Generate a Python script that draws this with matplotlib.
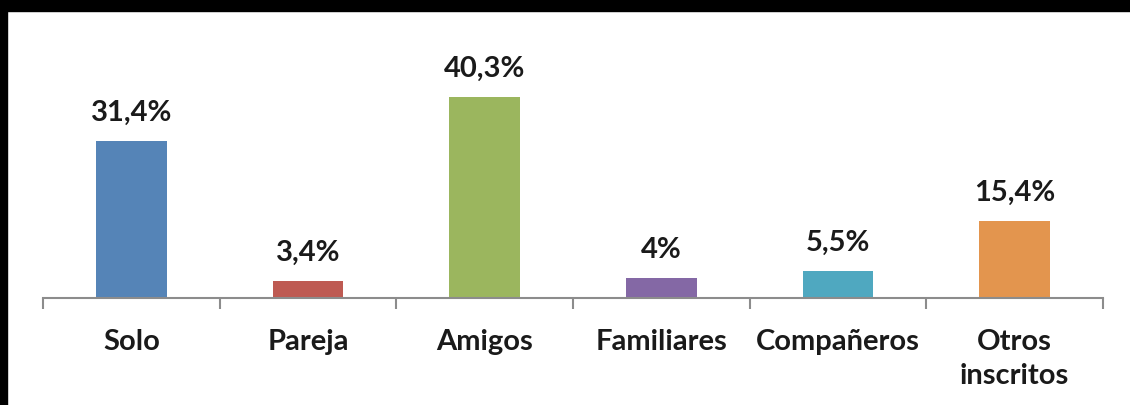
import numpy as np
import matplotlib.pyplot as plt
from matplotlib.patches import Rectangle

# datos del gráfico
categorias = ['Solo', 'Pareja', 'Amigos', 'Familiares', 'Compañeros', 'Otros\ninscritos']
valores = [31.4, 3.4, 40.3, 4.0, 5.5, 15.4]
etiquetas = ['31,4%', '3,4%', '40,3%', '4%', '5,5%', '15,4%']
colores = ['#5584B7', '#BE5A52', '#9BB65E', '#8468A5', '#4FA8C0', '#E3954E']

plt.rcParams['font.family'] = ['Lato', 'DejaVu Sans']

fig = plt.figure(figsize=(11.3, 4.05), dpi=100)
ax = fig.add_axes([43 / 1130, 107 / 405, 1060 / 1130, 250 / 405])

x = np.arange(len(categorias))
bars = ax.bar(x, valores, width=0.4, color=colores, zorder=2)

# etiquetas de valor encima de cada barra
for rect, txt in zip(bars, etiquetas):
    ax.annotate(txt, (rect.get_x() + rect.get_width() / 2, rect.get_height()),
                xytext=(0, 20), textcoords='offset pixels',
                ha='center', va='baseline', fontsize=21, fontweight='bold',
                color='#1a1a1a')

ax.set_xlim(-0.5, len(categorias) - 0.5)
ax.set_ylim(0, 50)

# eje horizontal estilo Excel: marcas entre categorías
ax.set_xticks(x)
ax.set_xticklabels(categorias, fontsize=21, fontweight='bold', color='#1a1a1a',
                   linespacing=1.4)
ax.set_xticks(np.arange(-0.5, len(categorias)), minor=True)
ax.tick_params(axis='x', which='major', length=0, pad=22)
ax.tick_params(axis='x', which='minor', length=8, width=1.5, color='#8c8c8c')
ax.set_yticks([])
for s in ['top', 'right', 'left']:
    ax.spines[s].set_visible(False)
ax.spines['bottom'].set_color('#8c8c8c')
ax.spines['bottom'].set_linewidth(1.5)

# borde negro arriba e izquierda
fig.patches.append(Rectangle((0, 1 - 11 / 405), 1, 11 / 405, transform=fig.transFigure,
                             color='black', zorder=10))
fig.patches.append(Rectangle((0, 0), 7 / 1130, 1, transform=fig.transFigure,
                             color='black', zorder=10))

fig.savefig('out.png', dpi=100)
